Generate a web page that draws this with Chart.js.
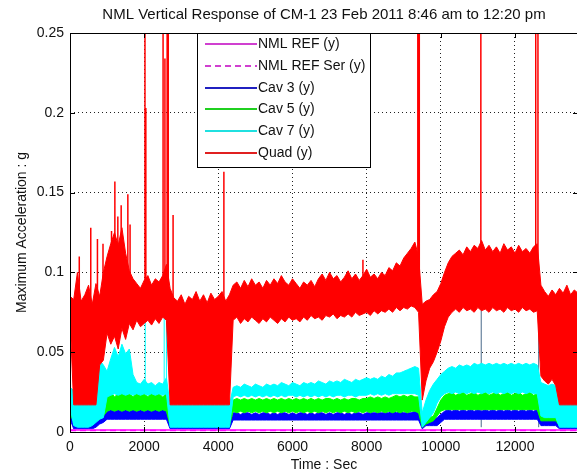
<!DOCTYPE html>
<html>
<head>
<meta charset="utf-8">
<title>NML Vertical Response of CM-1</title>
<script src="https://cdn.jsdelivr.net/npm/chart.js@4.4.1/dist/chart.umd.min.js"></script>
<style>
  html, body { margin: 0; padding: 0; background: #fff; overflow: hidden; }
</style>
</head>
<body>
<canvas id="grafico" width="600" height="475"></canvas>
<script>
// campioni ogni 100 s (inviluppo min/max letto per ogni intervallo)
const times = [
  0,100,200,300,400,500,600,700,800,900,
  1000,1100,1200,1300,1400,1500,1600,1700,1800,1900,
  2000,2100,2200,2300,2400,2500,2600,2700,2800,2900,
  3000,3100,3200,3300,3400,3500,3600,3700,3800,3900,
  4000,4100,4200,4300,4400,4500,4600,4700,4800,4900,
  5000,5100,5200,5300,5400,5500,5600,5700,5800,5900,
  6000,6100,6200,6300,6400,6500,6600,6700,6800,6900,
  7000,7100,7200,7300,7400,7500,7600,7700,7800,7900,
  8000,8100,8200,8300,8400,8500,8600,8700,8800,8900,
  9000,9100,9200,9300,9400,9500,9600,9700,9800,9900,
  10000,10100,10200,10300,10400,10500,10600,10700,10800,10900,
  11000,11100,11200,11300,11400,11500,11600,11700,11800,11900,
  12000,12100,12200,12300,12400,12500,12600,12700,12800,12900,
  13000,13100,13200,13300,13400,13500,13600,13700
];

// Quad (y)
const quadHi = [
  0.085,0.083,0.100,0.082,0.086,0.092,0.080,0.093,0.085,0.100,
  0.110,0.118,0.125,0.117,0.128,0.112,0.101,0.096,0.093,0.090,
  0.095,0.098,0.092,0.096,0.094,0.098,0.105,0.090,0.084,0.082,
  0.086,0.080,0.085,0.083,0.088,0.082,0.086,0.081,0.087,0.083,
  0.085,0.088,0.082,0.086,0.092,0.094,0.090,0.095,0.091,0.096,
  0.092,0.094,0.090,0.095,0.092,0.096,0.093,0.098,0.094,0.092,
  0.096,0.093,0.090,0.094,0.092,0.095,0.091,0.096,0.099,0.095,
  0.100,0.096,0.098,0.094,0.097,0.101,0.096,0.099,0.095,0.098,
  0.102,0.097,0.099,0.096,0.100,0.098,0.103,0.101,0.106,0.104,
  0.109,0.112,0.115,0.119,0.110,0.080,0.082,0.083,0.086,0.088,
  0.093,0.100,0.106,0.110,0.112,0.114,0.111,0.116,0.113,0.117,
  0.115,0.120,0.114,0.117,0.113,0.116,0.112,0.118,0.114,0.116,
  0.112,0.117,0.113,0.115,0.112,0.116,0.118,0.092,0.088,0.085,
  0.089,0.086,0.090,0.087,0.092,0.086,0.089,0.087
];
const quadLo = [
  0.072,0.017,0.017,0.017,0.017,0.017,0.017,0.017,0.042,0.045,
  0.062,0.055,0.060,0.052,0.065,0.058,0.068,0.064,0.070,0.066,
  0.068,0.070,0.067,0.071,0.068,0.072,0.070,0.017,0.017,0.017,
  0.017,0.017,0.017,0.017,0.017,0.017,0.017,0.017,0.017,0.017,
  0.017,0.017,0.017,0.017,0.070,0.072,0.068,0.071,0.069,0.072,
  0.070,0.068,0.071,0.069,0.072,0.070,0.068,0.071,0.069,0.072,
  0.070,0.071,0.069,0.072,0.070,0.073,0.071,0.072,0.070,0.073,
  0.072,0.074,0.071,0.073,0.072,0.074,0.072,0.075,0.073,0.074,
  0.075,0.073,0.076,0.074,0.076,0.075,0.077,0.075,0.078,0.076,
  0.078,0.077,0.079,0.078,0.075,0.020,0.032,0.040,0.044,0.050,
  0.057,0.066,0.072,0.075,0.077,0.075,0.078,0.076,0.077,0.075,
  0.078,0.076,0.077,0.075,0.078,0.076,0.077,0.075,0.078,0.076,
  0.077,0.075,0.078,0.076,0.077,0.075,0.076,0.035,0.032,0.030,
  0.033,0.029,0.017,0.017,0.017,0.017,0.017,0.017
];
// picchi isolati della Quad
const quadSpikeT = [250, 560, 740, 890, 1120, 1210, 1290, 1380, 1560, 1620, 2022, 2045, 2510, 2560, 2620, 2650, 2780, 4150, 7900, 9380, 9420, 11080, 12560, 12620];
const quadSpikeY = [0.110, 0.128, 0.121, 0.118, 0.126, 0.157, 0.135, 0.142, 0.149, 0.130, 0.26, 0.203, 0.26, 0.234, 0.26, 0.26, 0.136, 0.163, 0.108, 0.26, 0.26, 0.26, 0.26, 0.26];
const quadSpikeBase = 0.08;

// Cav 7 (y)
const cav7Hi = [
  0.028,0.026,0.024,0.024,0.024,0.025,0.024,0.030,0.045,0.042,
  0.038,0.046,0.053,0.047,0.055,0.049,0.052,0.036,0.031,0.030,
  0.033,0.030,0.031,0.029,0.031,0.030,0.034,0.017,0.017,0.017,
  0.017,0.017,0.017,0.017,0.017,0.017,0.017,0.017,0.017,0.017,
  0.017,0.017,0.017,0.017,0.028,0.029,0.028,0.030,0.029,0.028,
  0.030,0.029,0.028,0.030,0.029,0.030,0.029,0.031,0.030,0.029,
  0.031,0.030,0.029,0.031,0.030,0.031,0.030,0.032,0.031,0.030,
  0.032,0.031,0.032,0.031,0.033,0.032,0.031,0.033,0.032,0.033,
  0.034,0.033,0.034,0.033,0.035,0.034,0.036,0.035,0.037,0.037,
  0.038,0.039,0.040,0.041,0.040,0.012,0.020,0.026,0.030,0.033,
  0.036,0.038,0.040,0.041,0.040,0.042,0.041,0.042,0.041,0.043,
  0.042,0.043,0.042,0.043,0.042,0.043,0.042,0.043,0.042,0.043,
  0.042,0.043,0.042,0.043,0.042,0.043,0.042,0.031,0.030,0.029,
  0.030,0.029,0.018,0.018,0.018,0.018,0.018,0.018
];
const cav7Lo = [
  0.016,0.004,0.003,0.003,0.003,0.003,0.004,0.006,0.008,0.009,
  0.022,0.023,0.024,0.023,0.024,0.023,0.024,0.023,0.024,0.023,
  0.024,0.023,0.024,0.023,0.024,0.023,0.024,0.003,0.003,0.003,
  0.003,0.003,0.003,0.003,0.003,0.003,0.003,0.003,0.003,0.003,
  0.003,0.003,0.003,0.003,0.022,0.023,0.022,0.023,0.022,0.023,
  0.022,0.023,0.022,0.023,0.022,0.023,0.022,0.023,0.022,0.023,
  0.023,0.022,0.023,0.022,0.023,0.022,0.023,0.022,0.023,0.022,
  0.023,0.022,0.023,0.023,0.022,0.023,0.023,0.022,0.023,0.023,
  0.023,0.024,0.023,0.024,0.023,0.024,0.023,0.024,0.024,0.024,
  0.024,0.024,0.024,0.024,0.023,0.003,0.006,0.009,0.012,0.018,
  0.022,0.024,0.025,0.024,0.025,0.024,0.025,0.024,0.025,0.024,
  0.025,0.024,0.025,0.024,0.025,0.024,0.025,0.024,0.025,0.024,
  0.025,0.024,0.025,0.024,0.025,0.024,0.024,0.010,0.009,0.009,
  0.009,0.009,0.003,0.003,0.003,0.003,0.003,0.003
];
const cav7SpikeT = [2030, 2540, 2600];
const cav7SpikeY = [0.074, 0.078, 0.075];
const cav7SpikeBase = 0.03;

// Cav 5 (y)
const cav5Hi = [
  0.019,0.010,0.010,0.010,0.010,0.010,0.010,0.011,0.012,0.014,
  0.023,0.025,0.022,0.024,0.025,0.023,0.024,0.022,0.025,0.023,
  0.024,0.022,0.025,0.023,0.024,0.022,0.024,0.006,0.006,0.006,
  0.006,0.006,0.006,0.006,0.006,0.006,0.006,0.006,0.006,0.006,
  0.006,0.006,0.006,0.006,0.020,0.021,0.020,0.021,0.020,0.021,
  0.020,0.021,0.020,0.021,0.020,0.021,0.020,0.021,0.020,0.021,
  0.020,0.021,0.020,0.021,0.020,0.021,0.020,0.021,0.020,0.021,
  0.021,0.020,0.021,0.020,0.021,0.020,0.021,0.021,0.020,0.021,
  0.021,0.022,0.021,0.022,0.021,0.022,0.021,0.022,0.023,0.022,
  0.023,0.022,0.023,0.022,0.022,0.006,0.008,0.009,0.010,0.015,
  0.020,0.023,0.024,0.025,0.023,0.024,0.025,0.023,0.024,0.025,
  0.023,0.024,0.025,0.023,0.024,0.025,0.023,0.024,0.025,0.023,
  0.024,0.025,0.023,0.024,0.025,0.023,0.024,0.010,0.010,0.010,
  0.010,0.010,0.006,0.006,0.006,0.006,0.006,0.006
];
const cav5Lo = [
  0.012,0.006,0.006,0.006,0.006,0.006,0.006,0.007,0.008,0.010,
  0.013,0.014,0.013,0.014,0.013,0.014,0.013,0.014,0.013,0.014,
  0.013,0.014,0.013,0.014,0.013,0.014,0.013,0.004,0.004,0.004,
  0.004,0.004,0.004,0.004,0.004,0.004,0.004,0.004,0.004,0.004,
  0.004,0.004,0.004,0.004,0.013,0.012,0.013,0.012,0.013,0.012,
  0.013,0.012,0.013,0.012,0.013,0.012,0.013,0.012,0.013,0.012,
  0.013,0.012,0.013,0.012,0.013,0.012,0.013,0.012,0.013,0.012,
  0.013,0.012,0.013,0.012,0.013,0.012,0.013,0.012,0.013,0.012,
  0.013,0.012,0.013,0.012,0.013,0.012,0.013,0.012,0.013,0.012,
  0.013,0.012,0.013,0.013,0.012,0.003,0.005,0.006,0.007,0.010,
  0.013,0.014,0.014,0.014,0.014,0.014,0.014,0.014,0.014,0.014,
  0.014,0.014,0.014,0.014,0.014,0.014,0.014,0.014,0.014,0.014,
  0.014,0.014,0.014,0.014,0.014,0.014,0.014,0.007,0.007,0.007,
  0.007,0.007,0.004,0.004,0.004,0.004,0.004,0.004
];

// Cav 3 (y)
const cav3Hi = [
  0.012,0.004,0.004,0.004,0.004,0.004,0.005,0.007,0.009,0.010,
  0.013,0.014,0.013,0.014,0.013,0.014,0.013,0.014,0.013,0.014,
  0.013,0.014,0.013,0.014,0.013,0.014,0.013,0.003,0.003,0.003,
  0.003,0.003,0.003,0.003,0.003,0.003,0.003,0.003,0.003,0.003,
  0.003,0.003,0.003,0.003,0.012,0.012,0.011,0.012,0.012,0.011,
  0.012,0.011,0.012,0.012,0.011,0.012,0.011,0.012,0.012,0.011,
  0.012,0.011,0.012,0.012,0.011,0.012,0.011,0.012,0.012,0.011,
  0.012,0.011,0.012,0.012,0.011,0.012,0.011,0.012,0.012,0.011,
  0.012,0.012,0.012,0.012,0.012,0.012,0.012,0.013,0.012,0.013,
  0.012,0.012,0.012,0.013,0.012,0.005,0.008,0.008,0.008,0.009,
  0.011,0.013,0.014,0.013,0.014,0.013,0.014,0.013,0.014,0.013,
  0.014,0.013,0.014,0.013,0.014,0.013,0.014,0.013,0.014,0.013,
  0.014,0.013,0.014,0.013,0.014,0.013,0.014,0.009,0.009,0.009,
  0.009,0.009,0.003,0.003,0.003,0.003,0.003,0.003
];
const cav3Lo = [
  0.008,0.002,0.002,0.002,0.002,0.002,0.002,0.003,0.005,0.006,
  0.008,0.008,0.008,0.008,0.008,0.008,0.008,0.008,0.008,0.008,
  0.008,0.008,0.008,0.008,0.008,0.008,0.008,0.002,0.002,0.002,
  0.002,0.002,0.002,0.002,0.002,0.002,0.002,0.002,0.002,0.002,
  0.002,0.002,0.002,0.002,0.0075,0.0075,0.0075,0.0075,0.0075,0.0075,
  0.0075,0.0075,0.0075,0.0075,0.0075,0.0075,0.0075,0.0075,0.0075,0.0075,
  0.0075,0.0075,0.0075,0.0075,0.0075,0.0075,0.0075,0.0075,0.0075,0.0075,
  0.0075,0.0075,0.0075,0.0075,0.0075,0.0075,0.0075,0.0075,0.0075,0.0075,
  0.0075,0.0075,0.0075,0.0075,0.0075,0.0075,0.0075,0.0075,0.0075,0.0075,
  0.0075,0.0075,0.0075,0.0075,0.0075,0.002,0.004,0.004,0.004,0.004,
  0.006,0.008,0.008,0.008,0.008,0.008,0.008,0.008,0.008,0.008,
  0.008,0.008,0.008,0.008,0.008,0.008,0.008,0.008,0.008,0.008,
  0.008,0.008,0.008,0.008,0.008,0.008,0.008,0.004,0.004,0.004,
  0.004,0.004,0.002,0.002,0.002,0.002,0.002,0.002
];
const cav3SpikeT = [11090, 12640];
const cav3SpikeY = [0.078, 0.080];
const cav3SpikeBase = 0.003;

// NML REF (y) e NML REF Ser (y)
const nmlT = [0, 2000, 4000, 6000, 8000, 10000, 12000, 13700];
const nmlRef = [0.0013, 0.0013, 0.0013, 0.0013, 0.0013, 0.0013, 0.0013, 0.0013];
const nmlRefSer = [0.0009, 0.0009, 0.0009, 0.0009, 0.0009, 0.0009, 0.0009, 0.0009];

const xTicks = [0, 2000, 4000, 6000, 8000, 10000, 12000];
const xTickLabels = ['0', '2000', '4000', '6000', '8000', '10000', '12000'];
const yTicks = [0, 0.05, 0.1, 0.15, 0.2, 0.25];
const yTickLabels = ['0', '0.05', '0.1', '0.15', '0.2', '0.25'];

const seriesLabels = ['NML REF (y)', 'NML REF Ser (y)', 'Cav 3 (y)', 'Cav 5 (y)', 'Cav 7 (y)', 'Quad (y)'];
const titolo = 'NML Vertical Response of CM-1 23 Feb 2011 8:46 am to 12:20 pm';

const FONT = '"Liberation Sans", Arial, sans-serif';
const colori = ['#ff00ff', '#ff00ff', '#0000ff', '#00ff00', '#00ffff', '#ff0000'];
const coloriLegenda = ['#d040d0', '#d040d0', '#2020c0', '#20d020', '#20e0e0', '#e02020'];
const tratteggi = [[], [6, 4], [], [], [], []];

// banda min/max riempita: due linee con fill tra loro
function banda(hi, lo, colore, ordine) {
  return [
    { data: times.map((t, i) => ({x: t, y: hi[i]})), borderColor: colore, backgroundColor: colore,
      borderWidth: 1, fill: '+1', order: ordine },
    { data: times.map((t, i) => ({x: t, y: lo[i]})), borderColor: colore,
      borderWidth: 1, fill: false, order: ordine }
  ];
}

// picchi verticali, interrotti con null tra uno e l'altro
function picchi(ts, ys, base, colore, spessore, ordine) {
  const punti = [];
  for (var i = 0; i < ts.length; i++) {
    punti.push({x: ts[i], y: base}, {x: ts[i], y: ys[i]}, {x: ts[i], y: null});
  }
  return { data: punti, borderColor: colore, borderWidth: spessore, fill: false, spanGaps: false, order: ordine };
}

const datasets = [].concat(
  [{ data: nmlT.map((t, i) => ({x: t, y: nmlRef[i]})), borderColor: colori[0], borderWidth: 1.5, fill: false, order: 0 }],
  [{ data: nmlT.map((t, i) => ({x: t, y: nmlRefSer[i]})), borderColor: colori[1], borderWidth: 1.5, borderDash: [6, 4], fill: false, order: 0 }],
  banda(quadHi, quadLo, colori[5], 1),
  [picchi(quadSpikeT, quadSpikeY, quadSpikeBase, colori[5], 1.5, 1)],
  banda(cav7Hi, cav7Lo, colori[4], 2),
  [picchi(cav7SpikeT, cav7SpikeY, cav7SpikeBase, colori[4], 1, 2)],
  banda(cav5Hi, cav5Lo, colori[3], 3),
  banda(cav3Hi, cav3Lo, colori[2], 4),
  [picchi(cav3SpikeT, cav3SpikeY, cav3SpikeBase, '#4a6a8a', 1, 4)]
);

// riquadro degli assi con tacche rivolte verso l'interno
const cornice = {
  id: 'cornice',
  afterDatasetsDraw(chart) {
    const ctx = chart.ctx, a = chart.chartArea;
    const sx = chart.scales.x, sy = chart.scales.y;
    ctx.save();
    ctx.strokeStyle = '#000';
    ctx.lineWidth = 1;
    ctx.strokeRect(a.left + 0.5, a.top + 0.5, a.right - a.left, a.bottom - a.top);
    ctx.beginPath();
    xTicks.forEach(function(v) {
      const px = Math.round(sx.getPixelForValue(v)) + 0.5;
      ctx.moveTo(px, a.bottom); ctx.lineTo(px, a.bottom - 5);
      ctx.moveTo(px, a.top); ctx.lineTo(px, a.top + 5);
    });
    yTicks.forEach(function(v) {
      const py = Math.round(sy.getPixelForValue(v)) + 0.5;
      ctx.moveTo(a.left, py); ctx.lineTo(a.left + 5, py);
      ctx.moveTo(a.right, py); ctx.lineTo(a.right - 5, py);
    });
    ctx.stroke();
    ctx.restore();
  }
};

// legenda in alto al centro, dentro l'area del grafico
const legenda = {
  id: 'legenda',
  afterDatasetsDraw(chart) {
    const ctx = chart.ctx, a = chart.chartArea;
    const x0 = a.left + 127, y0 = a.top, w = 173, h = 134;
    ctx.save();
    ctx.fillStyle = '#fff';
    ctx.fillRect(x0, y0, w, h);
    ctx.strokeStyle = '#000';
    ctx.lineWidth = 1;
    ctx.strokeRect(x0 + 0.5, y0 + 0.5, w, h);
    ctx.font = '14px ' + FONT;
    ctx.textBaseline = 'middle';
    ctx.fillStyle = '#111';
    ctx.lineWidth = 2;
    seriesLabels.forEach(function(lab, i) {
      const y = Math.round(y0 + 11 + i * 21.8);
      ctx.strokeStyle = coloriLegenda[i];
      ctx.setLineDash(tratteggi[i]);
      ctx.beginPath();
      ctx.moveTo(x0 + 8, y);
      ctx.lineTo(x0 + 60, y);
      ctx.stroke();
      ctx.setLineDash([]);
      ctx.fillText(lab, x0 + 61, y);
    });
    ctx.restore();
  }
};

new Chart(document.getElementById('grafico'), {
  type: 'line',
  data: { datasets: datasets },
  options: {
    responsive: false,
    animation: false,
    devicePixelRatio: 1,
    layout: { padding: { left: 0, right: 22, top: 0, bottom: 0 } },
    elements: { point: { radius: 0, hitRadius: 0 }, line: { tension: 0 } },
    plugins: {
      legend: { display: false },
      tooltip: { enabled: false },
      title: {
        display: true, text: titolo, fullSize: false, color: '#111',
        font: { family: FONT, size: 15, weight: 'normal' },
        padding: { top: 6, bottom: 9 }
      }
    },
    scales: {
      x: {
        type: 'linear', min: 0, max: 13700,
        afterBuildTicks: function(s) { s.ticks = xTicks.map(function(v) { return {value: v}; }); },
        afterFit: function(s) { s.height = 43; s.paddingLeft = 0; s.paddingRight = 0; },
        ticks: {
          color: '#111', font: { family: FONT, size: 14 }, padding: 7, maxRotation: 0, autoSkip: false,
          callback: function(v, i) { return xTickLabels[i]; }
        },
        grid: { color: '#222', lineWidth: 1, drawTicks: false },
        border: { display: false, dash: [1, 3] },
        title: { display: true, text: 'Time : Sec', color: '#111', font: { family: FONT, size: 14 }, padding: { top: 0, bottom: 1 } }
      },
      y: {
        type: 'linear', min: 0, max: 0.25,
        afterBuildTicks: function(s) { s.ticks = yTicks.map(function(v) { return {value: v}; }); },
        afterFit: function(s) { s.width = 70; s.paddingTop = 0; s.paddingBottom = 0; },
        ticks: {
          color: '#111', font: { family: FONT, size: 14 }, padding: 6, autoSkip: false,
          callback: function(v, i) { return yTickLabels[i]; }
        },
        grid: { color: '#222', lineWidth: 1, drawTicks: false },
        border: { display: false, dash: [1, 3] },
        title: { display: true, text: 'Maximum Acceleration : g', color: '#111', font: { family: FONT, size: 14 }, padding: { top: 14, bottom: 0 } }
      }
    }
  },
  plugins: [cornice, legenda]
});
</script>
</body>
</html>
